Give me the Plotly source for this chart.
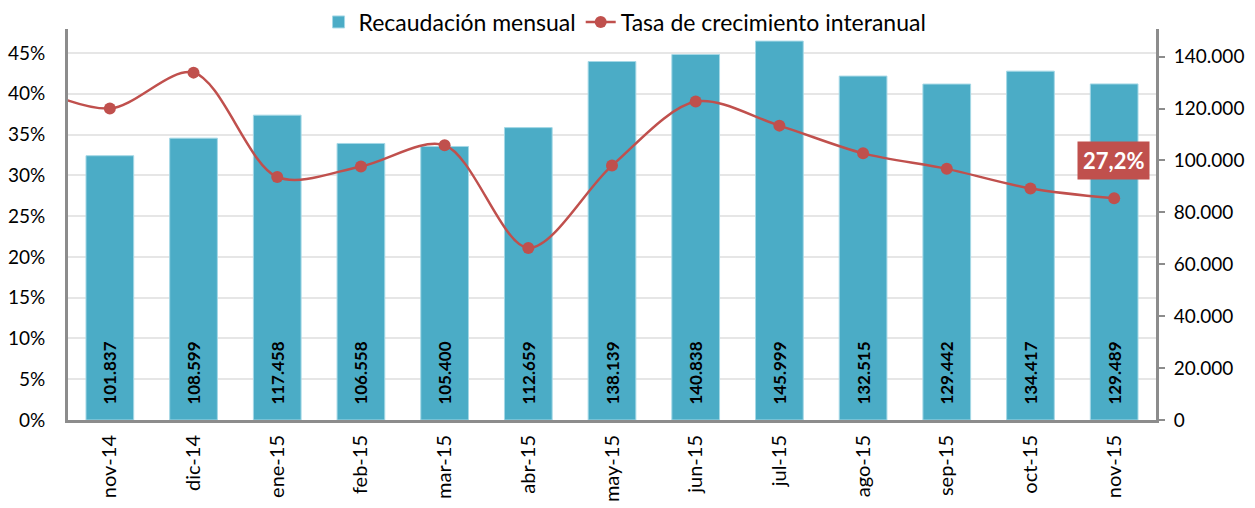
import plotly.graph_objects as go

months = ["nov-14", "dic-14", "ene-15", "feb-15", "mar-15", "abr-15", "may-15",
          "jun-15", "jul-15", "ago-15", "sep-15", "oct-15", "nov-15"]
recaudacion = [101837, 108599, 117458, 106558, 105400, 112659, 138139,
               140838, 145999, 132515, 129442, 134417, 129489]
# growth rate (%), includes the previous month (oct-14) which is cut off at the left edge
prev_month = "oct-14"
prev_rate = 41.2
tasa = [38.2, 42.6, 29.8, 31.1, 33.7, 21.1, 31.2, 39.05, 36.1, 32.7, 30.8, 28.4, 27.2]

BAR = "#4BACC6"
RED = "#C0504D"
FONT = "Lato"

all_cats = [prev_month] + months

H = 508
B = 88
TOP = 29
paper_h = H - B

fig = go.Figure()
fig.add_trace(go.Bar(
    x=months, y=recaudacion, name="Recaudación mensual", yaxis="y",
    marker=dict(color=BAR, line=dict(color="#A5D8E6", width=1)),
    width=0.57,
    texttemplate="\u00a0\u00a0\u00a0%{y:,.0f}", textposition="inside", insidetextanchor="start",
    textangle=-90, textfont=dict(family=FONT, size=17, color="black", weight="bold"),
))
fig.add_trace(go.Scatter(
    x=[prev_month] + months, y=[prev_rate] + tasa, name="Tasa de crecimiento interanual",
    mode="lines+markers", line=dict(color=RED, width=2.5, shape="spline", smoothing=0.9),
    marker=dict(color=RED, size=12), cliponaxis=True, yaxis="y2",
))

fig.add_annotation(
    x=months[-1], y=tasa[-1], xref="x", yref="y2",
    text="<b>" + f"{tasa[-1]:.1f}".replace(".", ",") + "%</b>",
    showarrow=False, yshift=38, xshift=-1,
    bgcolor=RED, font=dict(family=FONT, size=22, color="white"), borderpad=5,
)

dom_top = (paper_h - TOP) / paper_h

fig.update_layout(
    width=1255, height=H,
    margin=dict(l=68, r=99, t=0, b=B, autoexpand=False),
    plot_bgcolor="white", paper_bgcolor="white",
    separators=",.",
    font=dict(family=FONT, size=19, color="black"),
    showlegend=True,
    legend=dict(orientation="h", x=0.512, xanchor="center",
                y=1 - 22 / paper_h, yanchor="middle",
                font=dict(size=23), traceorder="normal", bgcolor="rgba(0,0,0,0)"),
    xaxis=dict(type="category", categoryorder="array", categoryarray=all_cats,
               range=[0.5, 13.5], tickangle=-90, showline=True, linecolor="#8C8C8C",
               linewidth=3, showgrid=False, ticks="", tickfont=dict(size=20),
               automargin=False, ticklabelstandoff=4),
    yaxis=dict(range=[0, 150660], dtick=20000, tickformat=",.0f", domain=[0, dom_top],
               side="right", showline=True, linecolor="#8C8C8C", linewidth=3,
               showgrid=False, ticks="outside", ticklen=6, tickcolor="#8C8C8C",
               tickwidth=2, zeroline=False, tickfont=dict(size=19), automargin=False,
               ticklabelstandoff=5),
    yaxis2=dict(range=[0, 47.95], dtick=5, ticksuffix="%", showline=True,
                overlaying="y", side="left",
                linecolor="#8C8C8C", linewidth=3, gridcolor="#E6E6E6", gridwidth=1.5,
                showgrid=True, ticks="", zeroline=False, tickfont=dict(size=19),
                automargin=False, ticklabelstandoff=16),
)

fig.write_html("out.html", config={"displayModeBar": False},
               post_script="document.body.style.margin='0';document.body.style.overflow='hidden';")
